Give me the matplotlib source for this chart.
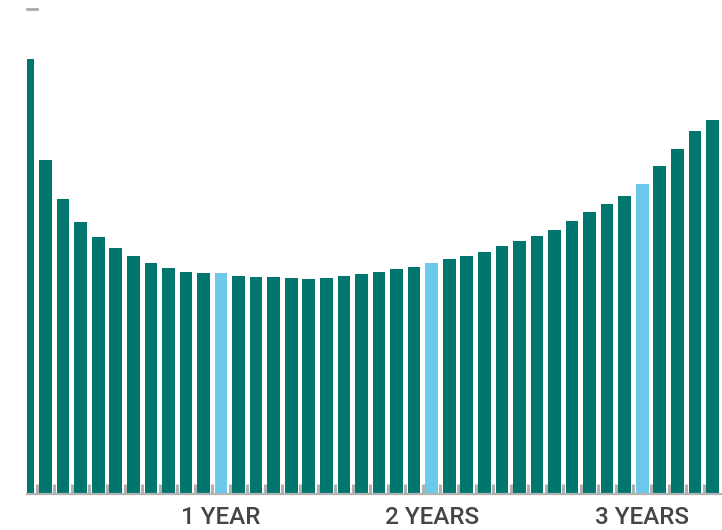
import matplotlib.pyplot as plt
import numpy as np

# months 1..40, bar heights (one y-tick = 1 unit)
months = np.arange(1, 41)
values = [4.48, 3.44, 3.04, 2.80, 2.65, 2.54, 2.45, 2.38, 2.33, 2.29,
          2.28, 2.28, 2.25, 2.24, 2.24, 2.23, 2.22, 2.23, 2.25, 2.27,
          2.29, 2.32, 2.34, 2.38, 2.42, 2.45, 2.49, 2.56, 2.61, 2.66,
          2.72, 2.81, 2.91, 2.99, 3.07, 3.20, 3.38, 3.56, 3.74, 3.86]
year_months = [12, 24, 36]
year_labels = ["1 YEAR", "2 YEARS", "3 YEARS"]

teal = "#00766f"
light = "#6cc9ec"
colors = [light if m in year_months else teal for m in months]

fig = plt.figure(figsize=(7.22, 5.30), dpi=100)
W, H = 722, 530
ax = fig.add_axes([27 / W, 36 / H, (W - 27) / W, (494 - 9) / H])

ax.bar(months, values, width=0.72, color=colors, zorder=2)

pitch = 17.55
ax.set_xlim(1 - 1 / pitch, 1 + (W - 28) / pitch)
ax.set_ylim(0, 5)

for s in ["top", "right", "left"]:
    ax.spines[s].set_visible(False)
ax.spines["bottom"].set_color("#b3b3b3")
ax.spines["bottom"].set_linewidth(1.6)
ax.spines["bottom"].set_zorder(3)

# x labels at the year marks, gray ticks in the gaps between bars
ax.set_xticks(year_months)
ax.set_xticklabels(year_labels, fontsize=17.5, color="#454545",
                   family="Roboto", fontweight="medium")
ax.set_xticks(months[:-1] + 0.5, minor=True)
ax.tick_params(axis="x", which="major", length=0, pad=9)
ax.tick_params(axis="x", which="minor", direction="in", length=7,
               width=2.2, color="#b0b0b0")
for t in ax.xaxis.get_minorticklines():
    t.set_zorder(3)

# small y ticks, no labels
ax.set_yticks([1, 2, 3, 4])
ax.set_yticklabels([])
ax.tick_params(axis="y", direction="in", length=3, width=1, color="#555555",
               pad=0)
for t in ax.yaxis.get_majorticklines():
    t.set_zorder(3)
ax.axhline(5, xmin=0, xmax=10 / (W - 27), color="#aaaaaa", linewidth=2,
           clip_on=False)

fig.savefig("out.png", dpi=100)
